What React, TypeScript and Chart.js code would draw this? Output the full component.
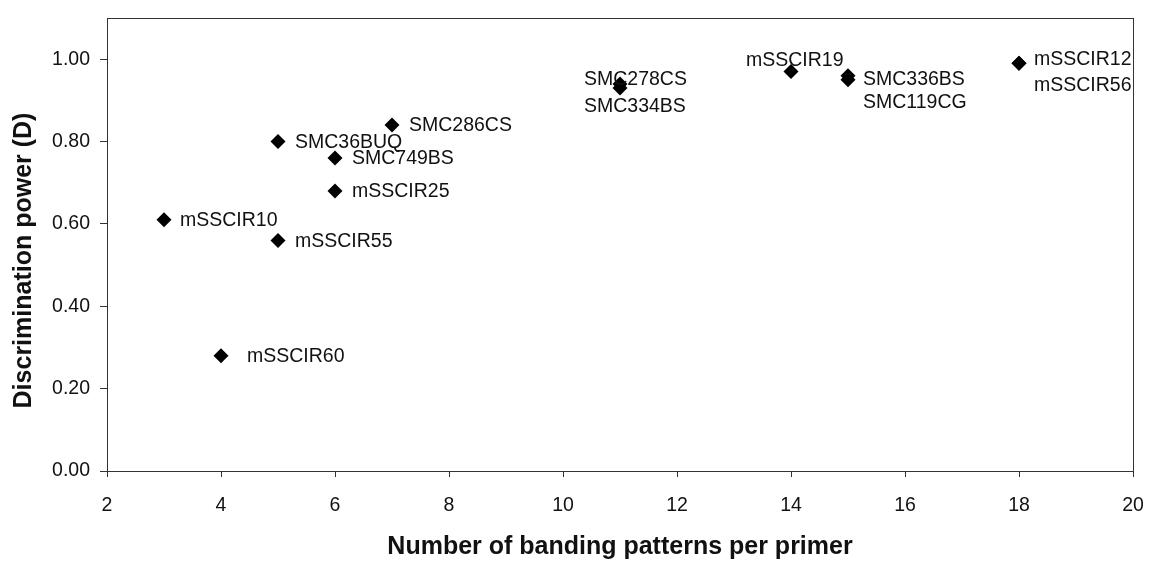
import React, { useEffect, useRef } from "react";
import { Chart, registerables } from "chart.js";

Chart.register(...registerables);

// ---- data ----
const primers = [
  "mSSCIR10",
  "mSSCIR60",
  "SMC36BUQ",
  "mSSCIR55",
  "SMC749BS",
  "mSSCIR25",
  "SMC286CS",
  "SMC278CS",
  "SMC334BS",
  "mSSCIR19",
  "SMC336BS",
  "SMC119CG",
  "mSSCIR12",
  "mSSCIR56",
];
const bandingPatterns = [3, 4, 5, 5, 6, 6, 7, 11, 11, 14, 15, 15, 18, 18];
const discriminationPower = [0.61, 0.28, 0.8, 0.56, 0.76, 0.68, 0.84, 0.94, 0.93, 0.97, 0.96, 0.95, 0.99, 0.99];
const xTickValues = [2, 4, 6, 8, 10, 12, 14, 16, 18, 20];
const yTickValues = [0, 0.2, 0.4, 0.6, 0.8, 1.0];

// label placement (pixel offsets from each marker: text left edge, text middle)
const labelOffsets: [number, number][] = [
  [16, 0],
  [26, 0],
  [17, 0],
  [17, 0],
  [17, 0],
  [17, 0],
  [17, 0],
  [-36, -5],
  [-36, 18],
  [-45, -12],
  [15, 3],
  [15, 22],
  [15, -5],
  [15, 21],
];

const FONT = "'Liberation Sans', Arial, Helvetica, sans-serif";
const INK = "#111";

const pointLabelPlugin = {
  id: "pointLabels",
  afterDatasetsDraw(chart: any) {
    const ctx = chart.ctx;
    const meta = chart.getDatasetMeta(0);
    ctx.save();
    ctx.font = `19.5px ${FONT}`;
    ctx.fillStyle = INK;
    ctx.textAlign = "left";
    ctx.textBaseline = "middle";
    meta.data.forEach((el: any, i: number) => {
      const [dx, dy] = labelOffsets[i];
      ctx.fillText(primers[i], el.x + dx, el.y + dy + 1);
    });
    ctx.restore();
  },
};

const framePlugin = {
  id: "frame",
  afterDraw(chart: any) {
    const { ctx, chartArea } = chart;
    ctx.save();
    ctx.strokeStyle = "#333";
    ctx.lineWidth = 1;
    ctx.strokeRect(
      Math.round(chartArea.left) + 0.5,
      Math.round(chartArea.top) + 0.5,
      Math.round(chartArea.right - chartArea.left),
      Math.round(chartArea.bottom - chartArea.top)
    );
    // y axis title
    ctx.translate(chartArea.left - 83, (chartArea.top + chartArea.bottom) / 2 + 16);
    ctx.rotate(-Math.PI / 2);
    ctx.font = `bold 25px ${FONT}`;
    ctx.fillStyle = INK;
    ctx.textAlign = "center";
    ctx.textBaseline = "middle";
    ctx.fillText("Discrimination power (D)", 0, 0);
    ctx.restore();
  },
};

export default function App() {
  const ref = useRef<HTMLCanvasElement | null>(null);

  useEffect(() => {
    document.body.style.margin = "0";
    const canvas = ref.current!;
    const chart = new Chart(canvas, {
      type: "scatter",
      data: {
        datasets: [
          {
            data: bandingPatterns.map((x, i) => ({ x, y: discriminationPower[i] })),
            pointStyle: "rectRot",
            pointRadius: 7.5,
            pointHoverRadius: 7.5,
            backgroundColor: "#000",
            borderColor: "#000",
            borderWidth: 0,
            showLine: false,
          },
        ],
      },
      options: {
        responsive: false,
        animation: false,
        devicePixelRatio: 1,
        layout: { padding: { top: 18, right: 18, left: 0, bottom: 0 } },
        plugins: {
          legend: { display: false },
          tooltip: { enabled: false },
        },
        scales: {
          x: {
            type: "linear",
            min: 2,
            max: 20,
            afterBuildTicks: (s: any) => {
              s.ticks = xTickValues.map((v) => ({ value: v }));
            },
            afterFit: (s: any) => {
              s.height = 94;
              s.paddingLeft = 0;
              s.paddingRight = 0;
            },
            ticks: {
              color: INK,
              padding: 17,
              font: { family: FONT, size: 19.5 },
              callback: (v: any) => String(v),
            },
            grid: {
              display: true,
              drawOnChartArea: false,
              drawTicks: true,
              tickLength: 6,
              color: "#333",
            },
            border: { display: true, color: "#333" },
            title: {
              display: true,
              text: "Number of banding patterns per primer",
              color: INK,
              font: { family: FONT, size: 25, weight: "bold" },
              padding: { top: 0, bottom: 3 },
            },
          },
          y: {
            type: "linear",
            min: 0,
            max: 1.1,
            afterBuildTicks: (s: any) => {
              s.ticks = yTickValues.map((v) => ({ value: v }));
            },
            afterFit: (s: any) => {
              s.width = 107;
              s.paddingTop = 0;
              s.paddingBottom = 0;
            },
            ticks: {
              color: INK,
              padding: 10,
              font: { family: FONT, size: 19.5 },
              callback: (v: any) => Number(v).toFixed(2),
            },
            grid: {
              display: true,
              drawOnChartArea: false,
              drawTicks: true,
              tickLength: 7,
              color: "#333",
            },
            border: { display: true, color: "#333" },
            title: { display: false },
          },
        },
      },
      plugins: [pointLabelPlugin, framePlugin],
    });
    return () => chart.destroy();
  }, []);

  return (
    <div style={{ width: 1151, height: 565, background: "#fff" }}>
      <canvas ref={ref} width={1151} height={565} style={{ display: "block", width: 1151, height: 565 }} />
    </div>
  );
}
